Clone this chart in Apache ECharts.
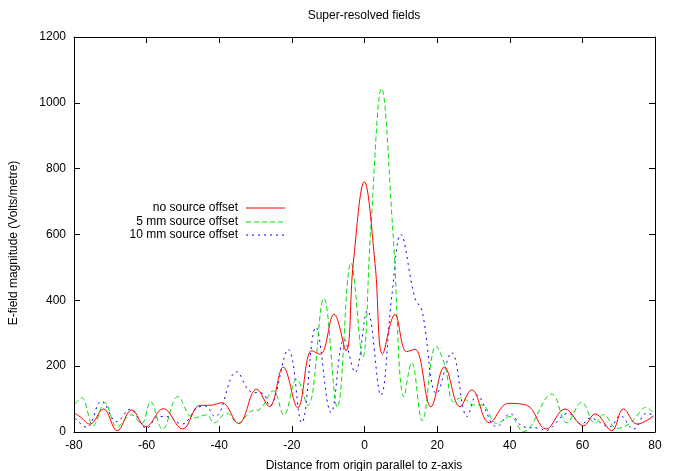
<!DOCTYPE html>
<html><head><meta charset="utf-8">
<script src="https://cdn.jsdelivr.net/npm/echarts@6/dist/echarts.min.js"></script>
<style>html,body{margin:0;padding:0;background:#fff}#c{width:680px;height:471px}</style>
</head><body><div id="c"></div>
<script>
const title = "Super-resolved fields";
const xLabel = "Distance from origin parallel to z-axis";
const yLabel = "E-field magnitude (Volts/metre)";
const seriesNames = ["no source offset", "5 mm source offset", "10 mm source offset"];

const redX = [-79.7,-78.3,-75.6,-71.9,-68.1,-64.1,-60.2,-55.4,-50.1,-45.3,-42.5,-39.3,-34.7,-29.7,-26.2,-22.4,-18.4,-14.5,-12.2,-8.4,-5.1,-3.1,-0.05,2.9,5.0,8.4,11.6,13.9,18.3,22.0,26.3,29.5,34.4,39.6,44.7,50.0,55.2,60.3,63.5,68.1,71.3,75.1,79.6];
const redY = [57,46,24,70,4,67,16,71,9,81,81,89,26,130,77,197,74,247,236,358,247,512,760,512,237,357,244,251,77,198,77,128,28,87,81,9,70,19,55,4,70,24,49];

const greenX = [-79.7,-77.9,-74.7,-71.5,-68.1,-64.1,-61.4,-58.9,-55.6,-51.4,-47.1,-43.5,-41.4,-38.0,-34.7,-31.5,-28.8,-25.1,-22.2,-18.7,-15.6,-11.2,-7.5,-3.7,-0.5,1.7,4.7,7.8,10.9,13.0,15.9,19.7,22.2,24.5,26.8,30.0,32.3,36.4,40.1,43.7,51.6,55.7,59.8,63.5,65.8,69.5,73.1,77.7,79.6];
const greenY = [85,104,19,89,16,52,26,92,8,107,42,52,28,57,26,62,69,125,52,160,80,406,75,514,226,614,1044,614,107,211,34,261,200,92,105,82,82,26,47,1,115,28,90,26,53,11,26,75,55];

const blueX = [-79.7,-76.5,-72.4,-68.2,-64.6,-60.0,-56.8,-54.5,-50.3,-46.2,-43.9,-41.2,-35.2,-31.3,-27.9,-26.2,-21.0,-17.3,-13.4,-9.2,-5.6,-2.6,0.8,4.5,7.5,10.0,13.9,15.8,19.9,24.0,28.3,30.9,36.4,40.1,43.7,48.3,49.7,56.1,59.8,62.1,67.6,70.4,74.1,77.7,79.6];
const blueY = [42,14,94,31,69,11,47,47,24,72,79,47,183,122,117,79,251,28,318,59,282,181,369,112,411,600,406,370,117,241,47,112,16,55,16,11,4,57,24,42,16,50,9,57,52];

const xTicks = [-80,-60,-40,-20,0,20,40,60,80];
const yTicks = [0,200,400,600,800,1000,1200];

const pair = (xs, ys) => xs.map((x, i) => [x, ys[i]]);
const colors = ["#ff0000", "#00e000", "#0000ff"];
const lineTypes = ["solid", [5, 3], [2, 4]];
const font = "Liberation Sans, Arial, sans-serif";

const chart = echarts.init(document.getElementById('c'), null, {renderer: 'canvas'});
const axisCommon = {
  axisLine: {show: true, onZero: false, lineStyle: {color: '#000', width: 1}},
  axisTick: {show: true, inside: true, length: 6, lineStyle: {color: '#000'}},
  splitLine: {show: false}
};
const grid = {left: 74, right: 25, top: 37, bottom: 39};
const legendY = [208, 222, 235];
const graphics = [
  {type: 'text', style: {text: title, x: 364, y: 16, textAlign: 'center', textVerticalAlign: 'middle', font: '12px ' + font, fill: '#000'}},
  {type: 'text', style: {text: xLabel, x: 364, y: 466, textAlign: 'center', textVerticalAlign: 'middle', font: '12px ' + font, fill: '#000'}},
  {type: 'text', rotation: Math.PI / 2, x: 14, y: 243, style: {text: yLabel, x: 0, y: 0, textAlign: 'center', textVerticalAlign: 'middle', font: '12px ' + font, fill: '#000'}}
];
seriesNames.forEach((n, i) => {
  graphics.push({type: 'text', style: {text: n, x: 238, y: legendY[i], textAlign: 'right', textVerticalAlign: 'middle', font: '12px ' + font, fill: '#000'}});
  graphics.push({type: 'line', shape: {x1: 246, y1: legendY[i], x2: 285, y2: legendY[i]}, style: {stroke: colors[i], lineWidth: 1, lineDash: lineTypes[i] === 'solid' ? null : lineTypes[i]}});
});
const fmt = v => String(v);

chart.setOption({
  animation: false,
  backgroundColor: '#fff',
  grid: grid,
  xAxis: [
    Object.assign({type: 'value', min: -80, max: 80, interval: 20, position: 'bottom',
      axisLabel: {color: '#000', fontSize: 12, fontFamily: font, margin: 8, formatter: fmt}}, axisCommon),
    Object.assign({type: 'value', min: -80, max: 80, interval: 20, position: 'top',
      axisLabel: {show: false}}, axisCommon)
  ],
  yAxis: [
    Object.assign({type: 'value', min: 0, max: 1200, interval: 200, position: 'left',
      axisLabel: {color: '#000', fontSize: 12, fontFamily: font, margin: 8, formatter: fmt}}, axisCommon),
    Object.assign({type: 'value', min: 0, max: 1200, interval: 200, position: 'right',
      axisLabel: {show: false}}, axisCommon)
  ],
  series: [pair(redX, redY), pair(greenX, greenY), pair(blueX, blueY)].map((d, i) => ({
    name: seriesNames[i], type: 'line', data: d, smooth: 0.4, symbol: 'none',
    lineStyle: {color: colors[i], width: 1, type: lineTypes[i]}, z: 3 - i
  })),
  graphic: graphics
});
</script></body></html>
